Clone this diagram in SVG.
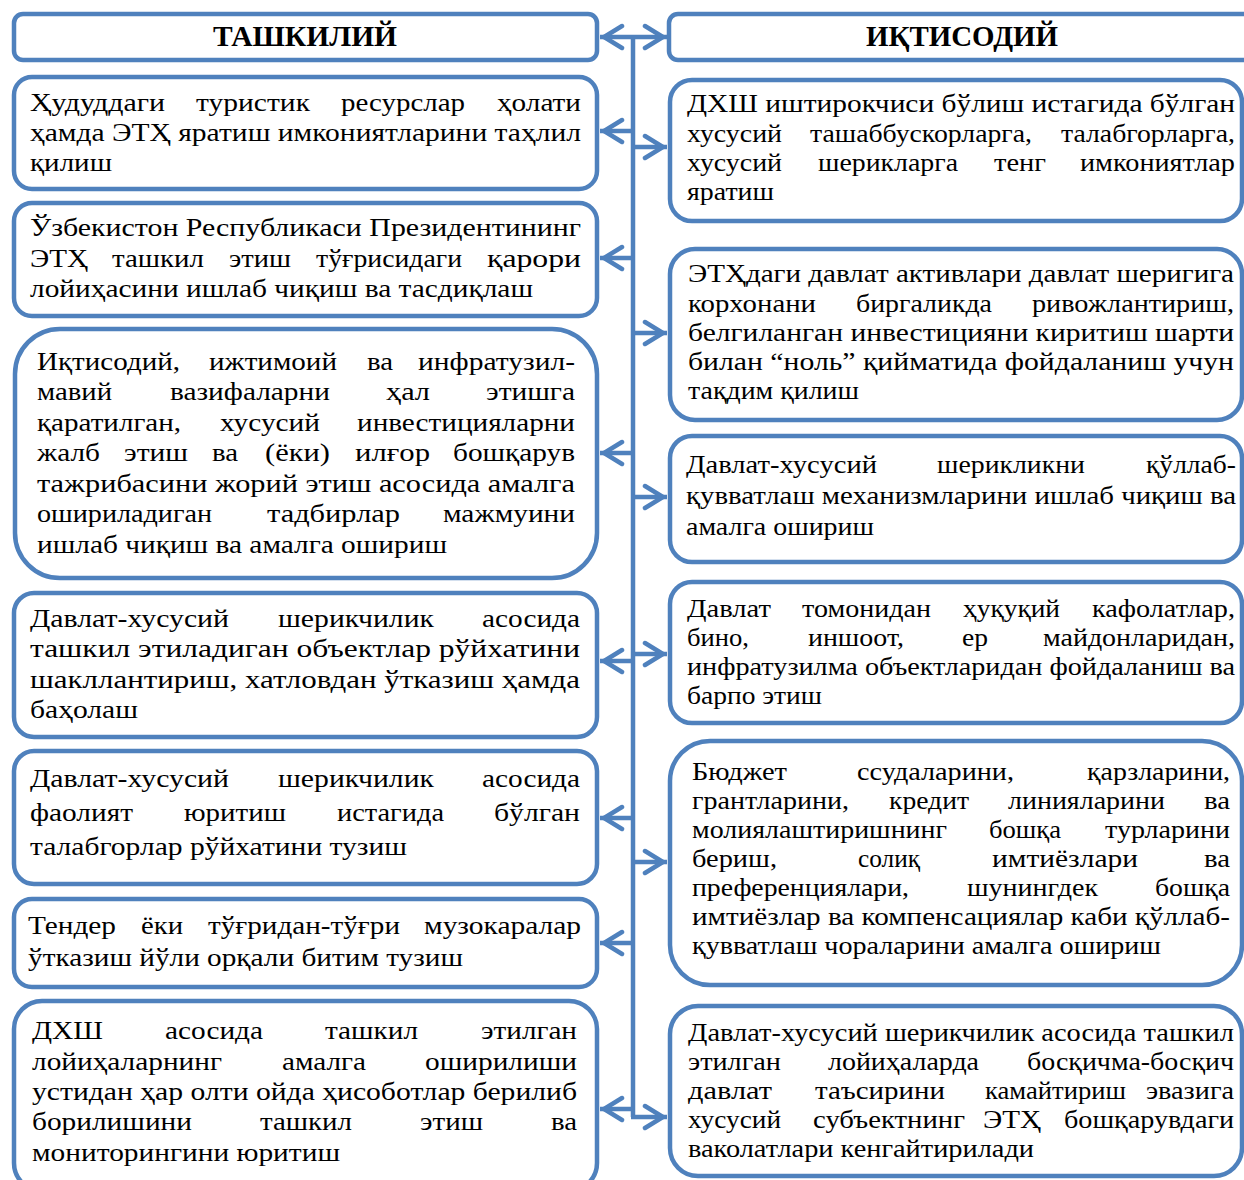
<svg xmlns="http://www.w3.org/2000/svg" width="1244" height="1180" viewBox="0 0 1244 1180">
<style>
.box{fill:#fff;stroke:#4F81BD;stroke-width:4.5}
.c{fill:none;stroke:#4F81BD;stroke-width:4.5}
.t{font-family:"Liberation Serif","Times New Roman",serif;font-size:25px;fill:#000}
.h{font-family:"Liberation Serif","Times New Roman",serif;font-size:29px;font-weight:bold;fill:#000}
</style>
<defs>
<marker id="ah" viewBox="-26 -14 30 28" refX="0" refY="0" markerWidth="30" markerHeight="28" markerUnits="userSpaceOnUse" orient="auto">
<path d="M-22,-11 L-4,0 L-22,11" fill="none" stroke="#4F81BD" stroke-width="4.5" stroke-linecap="round"/>
</marker>
</defs>
<rect width="1244" height="1180" fill="#fff"/>

<g id="connectors">
<path class="c" d="M633,37 V1117"/>
<path class="c" d="M633,37 H600" marker-end="url(#ah)"/>
<path class="c" d="M633,37 H667" marker-end="url(#ah)"/>
<path class="c" d="M633,131 H600" marker-end="url(#ah)"/>
<path class="c" d="M633,147 H667" marker-end="url(#ah)"/>
<path class="c" d="M633,258 H600" marker-end="url(#ah)"/>
<path class="c" d="M633,333 H667" marker-end="url(#ah)"/>
<path class="c" d="M633,453 H600" marker-end="url(#ah)"/>
<path class="c" d="M633,497 H667" marker-end="url(#ah)"/>
<path class="c" d="M633,661 H600" marker-end="url(#ah)"/>
<path class="c" d="M633,654 H667" marker-end="url(#ah)"/>
<path class="c" d="M633,818 H600" marker-end="url(#ah)"/>
<path class="c" d="M633,862 H667" marker-end="url(#ah)"/>
<path class="c" d="M633,943 H600" marker-end="url(#ah)"/>
<path class="c" d="M633,1109 H600" marker-end="url(#ah)"/>
<path class="c" d="M631,1117 H667" marker-end="url(#ah)"/>
</g>

<g id="hdr-left">
<rect class="box" x="14" y="14" width="583" height="46" rx="9"/>
<text class="h" x="213" y="46" textLength="184" lengthAdjust="spacingAndGlyphs">ТАШКИЛИЙ</text>
</g>
<g id="hdr-right">
<rect class="box" x="669" y="14" width="600" height="46" rx="9"/>
<text class="h" x="866" y="46" textLength="192" lengthAdjust="spacingAndGlyphs">ИҚТИСОДИЙ</text>
</g>

<g id="L1">
<rect class="box" x="14" y="77" width="583" height="112" rx="18"/>
<text class="t" y="111"><tspan x="30" textLength="135" lengthAdjust="spacingAndGlyphs">Ҳудуддаги</tspan><tspan x="196" textLength="114" lengthAdjust="spacingAndGlyphs">туристик</tspan><tspan x="341" textLength="124" lengthAdjust="spacingAndGlyphs">ресурслар</tspan><tspan x="497" textLength="84" lengthAdjust="spacingAndGlyphs">ҳолати</tspan></text>
<text class="t" x="30" y="141" textLength="551" lengthAdjust="spacingAndGlyphs">ҳамда ЭТҲ яратиш имкониятларини таҳлил</text>
<text class="t" x="30" y="171" textLength="82" lengthAdjust="spacingAndGlyphs">қилиш</text>
</g>

<g id="L2">
<rect class="box" x="14" y="203" width="583" height="113" rx="18"/>
<text class="t" x="30" y="236" textLength="551" lengthAdjust="spacingAndGlyphs">Ўзбекистон Республикаси Президентининг</text>
<text class="t" y="267"><tspan x="30" textLength="58" lengthAdjust="spacingAndGlyphs">ЭТҲ</tspan><tspan x="112" textLength="92" lengthAdjust="spacingAndGlyphs">ташкил</tspan><tspan x="229" textLength="62" lengthAdjust="spacingAndGlyphs">этиш</tspan><tspan x="316" textLength="146" lengthAdjust="spacingAndGlyphs">тўғрисидаги</tspan><tspan x="487" textLength="94" lengthAdjust="spacingAndGlyphs">қарори</tspan></text>
<text class="t" x="30" y="297" textLength="503" lengthAdjust="spacingAndGlyphs">лойиҳасини ишлаб чиқиш ва тасдиқлаш</text>
</g>

<g id="L3">
<rect class="box" x="15" y="329" width="582" height="249" rx="45"/>
<text class="t" y="370"><tspan x="37" textLength="143" lengthAdjust="spacingAndGlyphs">Иқтисодий,</tspan><tspan x="209" textLength="128" lengthAdjust="spacingAndGlyphs">ижтимоий</tspan><tspan x="367" textLength="26" lengthAdjust="spacingAndGlyphs">ва</tspan><tspan x="418" textLength="157" lengthAdjust="spacingAndGlyphs">инфратузил-</tspan></text>
<text class="t" y="400"><tspan x="37" textLength="75" lengthAdjust="spacingAndGlyphs">мавий</tspan><tspan x="170" textLength="160" lengthAdjust="spacingAndGlyphs">вазифаларни</tspan><tspan x="386" textLength="44" lengthAdjust="spacingAndGlyphs">ҳал</tspan><tspan x="486" textLength="89" lengthAdjust="spacingAndGlyphs">этишга</tspan></text>
<text class="t" y="431"><tspan x="37" textLength="144" lengthAdjust="spacingAndGlyphs">қаратилган,</tspan><tspan x="220" textLength="100" lengthAdjust="spacingAndGlyphs">хусусий</tspan><tspan x="357" textLength="218" lengthAdjust="spacingAndGlyphs">инвестицияларни</tspan></text>
<text class="t" y="461"><tspan x="37" textLength="63" lengthAdjust="spacingAndGlyphs">жалб</tspan><tspan x="124" textLength="64" lengthAdjust="spacingAndGlyphs">этиш</tspan><tspan x="212" textLength="26" lengthAdjust="spacingAndGlyphs">ва</tspan><tspan x="265" textLength="65" lengthAdjust="spacingAndGlyphs">(ёки)</tspan><tspan x="355" textLength="75" lengthAdjust="spacingAndGlyphs">илғор</tspan><tspan x="453" textLength="122" lengthAdjust="spacingAndGlyphs">бошқарув</tspan></text>
<text class="t" x="37" y="492" textLength="538" lengthAdjust="spacingAndGlyphs">тажрибасини жорий этиш асосида амалга</text>
<text class="t" y="522"><tspan x="37" textLength="175" lengthAdjust="spacingAndGlyphs">ошириладиган</tspan><tspan x="267" textLength="133" lengthAdjust="spacingAndGlyphs">тадбирлар</tspan><tspan x="443" textLength="132" lengthAdjust="spacingAndGlyphs">мажмуини</tspan></text>
<text class="t" x="37" y="553" textLength="410" lengthAdjust="spacingAndGlyphs">ишлаб чиқиш ва амалга ошириш</text>
</g>

<g id="L4">
<rect class="box" x="14" y="593" width="583" height="144" rx="20"/>
<text class="t" y="627"><tspan x="30" textLength="199" lengthAdjust="spacingAndGlyphs">Давлат-хусусий</tspan><tspan x="278" textLength="156" lengthAdjust="spacingAndGlyphs">шерикчилик</tspan><tspan x="482" textLength="98" lengthAdjust="spacingAndGlyphs">асосида</tspan></text>
<text class="t" x="30" y="657" textLength="550" lengthAdjust="spacingAndGlyphs">ташкил этиладиган объектлар рўйхатини</text>
<text class="t" x="30" y="688" textLength="550" lengthAdjust="spacingAndGlyphs">шакллантириш, хатловдан ўтказиш ҳамда</text>
<text class="t" x="30" y="718" textLength="108" lengthAdjust="spacingAndGlyphs">баҳолаш</text>
</g>

<g id="L5">
<rect class="box" x="14" y="751" width="583" height="133" rx="20"/>
<text class="t" y="787"><tspan x="30" textLength="199" lengthAdjust="spacingAndGlyphs">Давлат-хусусий</tspan><tspan x="278" textLength="156" lengthAdjust="spacingAndGlyphs">шерикчилик</tspan><tspan x="482" textLength="98" lengthAdjust="spacingAndGlyphs">асосида</tspan></text>
<text class="t" y="821"><tspan x="30" textLength="103" lengthAdjust="spacingAndGlyphs">фаолият</tspan><tspan x="184" textLength="102" lengthAdjust="spacingAndGlyphs">юритиш</tspan><tspan x="337" textLength="107" lengthAdjust="spacingAndGlyphs">истагида</tspan><tspan x="494" textLength="86" lengthAdjust="spacingAndGlyphs">бўлган</tspan></text>
<text class="t" x="30" y="855" textLength="377" lengthAdjust="spacingAndGlyphs">талабгорлар рўйхатини тузиш</text>
</g>

<g id="L6">
<rect class="box" x="14" y="899" width="583" height="88" rx="18"/>
<text class="t" y="934"><tspan x="28" textLength="88" lengthAdjust="spacingAndGlyphs">Тендер</tspan><tspan x="141" textLength="42" lengthAdjust="spacingAndGlyphs">ёки</tspan><tspan x="208" textLength="192" lengthAdjust="spacingAndGlyphs">тўғридан-тўғри</tspan><tspan x="424" textLength="157" lengthAdjust="spacingAndGlyphs">музокаралар</tspan></text>
<text class="t" x="28" y="966" textLength="435" lengthAdjust="spacingAndGlyphs">ўтказиш йўли орқали битим тузиш</text>
</g>

<g id="L7">
<rect class="box" x="14" y="1001" width="583" height="190" rx="28"/>
<text class="t" y="1039"><tspan x="32" textLength="71" lengthAdjust="spacingAndGlyphs">ДХШ</tspan><tspan x="165" textLength="98" lengthAdjust="spacingAndGlyphs">асосида</tspan><tspan x="325" textLength="93" lengthAdjust="spacingAndGlyphs">ташкил</tspan><tspan x="481" textLength="96" lengthAdjust="spacingAndGlyphs">этилган</tspan></text>
<text class="t" y="1070"><tspan x="32" textLength="190" lengthAdjust="spacingAndGlyphs">лойиҳаларнинг</tspan><tspan x="282" textLength="84" lengthAdjust="spacingAndGlyphs">амалга</tspan><tspan x="425" textLength="152" lengthAdjust="spacingAndGlyphs">оширилиши</tspan></text>
<text class="t" x="32" y="1100" textLength="545" lengthAdjust="spacingAndGlyphs">устидан ҳар олти ойда ҳисоботлар берилиб</text>
<text class="t" y="1130"><tspan x="32" textLength="160" lengthAdjust="spacingAndGlyphs">борилишини</tspan><tspan x="260" textLength="92" lengthAdjust="spacingAndGlyphs">ташкил</tspan><tspan x="420" textLength="63" lengthAdjust="spacingAndGlyphs">этиш</tspan><tspan x="551" textLength="26" lengthAdjust="spacingAndGlyphs">ва</tspan></text>
<text class="t" x="32" y="1161" textLength="308" lengthAdjust="spacingAndGlyphs">мониторингини юритиш</text>
</g>

<g id="R1">
<rect class="box" x="670" y="80" width="572" height="141" rx="22"/>
<text class="t" x="687" y="112" textLength="548" lengthAdjust="spacingAndGlyphs">ДХШ иштирокчиси бўлиш истагида бўлган</text>
<text class="t" y="142"><tspan x="687" textLength="95" lengthAdjust="spacingAndGlyphs">хусусий</tspan><tspan x="810" textLength="222" lengthAdjust="spacingAndGlyphs">ташаббускорларга,</tspan><tspan x="1061" textLength="174" lengthAdjust="spacingAndGlyphs">талабгорларга,</tspan></text>
<text class="t" y="171"><tspan x="687" textLength="95" lengthAdjust="spacingAndGlyphs">хусусий</tspan><tspan x="818" textLength="140" lengthAdjust="spacingAndGlyphs">шерикларга</tspan><tspan x="994" textLength="52" lengthAdjust="spacingAndGlyphs">тенг</tspan><tspan x="1080" textLength="155" lengthAdjust="spacingAndGlyphs">имкониятлар</tspan></text>
<text class="t" x="687" y="200" textLength="87" lengthAdjust="spacingAndGlyphs">яратиш</text>
</g>

<g id="R2">
<rect class="box" x="670" y="249" width="572" height="171" rx="25"/>
<text class="t" x="688" y="282" textLength="546" lengthAdjust="spacingAndGlyphs">ЭТҲдаги давлат активлари давлат шеригига</text>
<text class="t" y="312"><tspan x="688" textLength="128" lengthAdjust="spacingAndGlyphs">корхонани</tspan><tspan x="856" textLength="136" lengthAdjust="spacingAndGlyphs">биргаликда</tspan><tspan x="1032" textLength="202" lengthAdjust="spacingAndGlyphs">ривожлантириш,</tspan></text>
<text class="t" x="688" y="341" textLength="546" lengthAdjust="spacingAndGlyphs">белгиланган инвестицияни киритиш шарти</text>
<text class="t" x="688" y="370" textLength="546" lengthAdjust="spacingAndGlyphs">билан “ноль” қийматида фойдаланиш учун</text>
<text class="t" x="688" y="399" textLength="171" lengthAdjust="spacingAndGlyphs">тақдим қилиш</text>
</g>

<g id="R3">
<rect class="box" x="670" y="436" width="572" height="126" rx="22"/>
<text class="t" y="473"><tspan x="686" textLength="191" lengthAdjust="spacingAndGlyphs">Давлат-хусусий</tspan><tspan x="937" textLength="148" lengthAdjust="spacingAndGlyphs">шерикликни</tspan><tspan x="1146" textLength="90" lengthAdjust="spacingAndGlyphs">қўллаб-</tspan></text>
<text class="t" x="686" y="504" textLength="550" lengthAdjust="spacingAndGlyphs">қувватлаш механизмларини ишлаб чиқиш ва</text>
<text class="t" x="686" y="535" textLength="188" lengthAdjust="spacingAndGlyphs">амалга ошириш</text>
</g>

<g id="R4">
<rect class="box" x="670" y="582" width="572" height="141" rx="22"/>
<text class="t" y="617"><tspan x="687" textLength="84" lengthAdjust="spacingAndGlyphs">Давлат</tspan><tspan x="802" textLength="129" lengthAdjust="spacingAndGlyphs">томонидан</tspan><tspan x="963" textLength="97" lengthAdjust="spacingAndGlyphs">ҳуқуқий</tspan><tspan x="1092" textLength="143" lengthAdjust="spacingAndGlyphs">кафолатлар,</tspan></text>
<text class="t" y="646"><tspan x="687" textLength="62" lengthAdjust="spacingAndGlyphs">бино,</tspan><tspan x="808" textLength="96" lengthAdjust="spacingAndGlyphs">иншоот,</tspan><tspan x="962" textLength="26" lengthAdjust="spacingAndGlyphs">ер</tspan><tspan x="1043" textLength="192" lengthAdjust="spacingAndGlyphs">майдонларидан,</tspan></text>
<text class="t" x="687" y="675" textLength="548" lengthAdjust="spacingAndGlyphs">инфратузилма объектларидан фойдаланиш ва</text>
<text class="t" x="687" y="704" textLength="135" lengthAdjust="spacingAndGlyphs">барпо этиш</text>
</g>

<g id="R5">
<rect class="box" x="670" y="741" width="572" height="244" rx="40"/>
<text class="t" y="780"><tspan x="692" textLength="95" lengthAdjust="spacingAndGlyphs">Бюджет</tspan><tspan x="857" textLength="157" lengthAdjust="spacingAndGlyphs">ссудаларини,</tspan><tspan x="1087" textLength="143" lengthAdjust="spacingAndGlyphs">қарзларини,</tspan></text>
<text class="t" y="809"><tspan x="692" textLength="157" lengthAdjust="spacingAndGlyphs">грантларини,</tspan><tspan x="889" textLength="80" lengthAdjust="spacingAndGlyphs">кредит</tspan><tspan x="1008" textLength="157" lengthAdjust="spacingAndGlyphs">линияларини</tspan><tspan x="1204" textLength="26" lengthAdjust="spacingAndGlyphs">ва</tspan></text>
<text class="t" y="838"><tspan x="692" textLength="255" lengthAdjust="spacingAndGlyphs">молиялаштиришнинг</tspan><tspan x="989" textLength="72" lengthAdjust="spacingAndGlyphs">бошқа</tspan><tspan x="1105" textLength="125" lengthAdjust="spacingAndGlyphs">турларини</tspan></text>
<text class="t" y="867"><tspan x="692" textLength="85" lengthAdjust="spacingAndGlyphs">бериш,</tspan><tspan x="858" textLength="62" lengthAdjust="spacingAndGlyphs">солиқ</tspan><tspan x="992" textLength="146" lengthAdjust="spacingAndGlyphs">имтиёзлари</tspan><tspan x="1204" textLength="26" lengthAdjust="spacingAndGlyphs">ва</tspan></text>
<text class="t" y="896"><tspan x="692" textLength="217" lengthAdjust="spacingAndGlyphs">преференциялари,</tspan><tspan x="967" textLength="131" lengthAdjust="spacingAndGlyphs">шунингдек</tspan><tspan x="1155" textLength="75" lengthAdjust="spacingAndGlyphs">бошқа</tspan></text>
<text class="t" x="692" y="925" textLength="538" lengthAdjust="spacingAndGlyphs">имтиёзлар ва компенсациялар каби қўллаб-</text>
<text class="t" x="692" y="954" textLength="469" lengthAdjust="spacingAndGlyphs">қувватлаш чораларини амалга ошириш</text>
</g>

<g id="R6">
<rect class="box" x="670" y="1006" width="572" height="170" rx="28"/>
<text class="t" x="688" y="1041" textLength="546" lengthAdjust="spacingAndGlyphs">Давлат-хусусий шерикчилик асосида ташкил</text>
<text class="t" y="1070"><tspan x="688" textLength="93" lengthAdjust="spacingAndGlyphs">этилган</tspan><tspan x="828" textLength="151" lengthAdjust="spacingAndGlyphs">лойиҳаларда</tspan><tspan x="1027" textLength="207" lengthAdjust="spacingAndGlyphs">босқичма-босқич</tspan></text>
<text class="t" y="1099"><tspan x="688" textLength="84" lengthAdjust="spacingAndGlyphs">давлат</tspan><tspan x="815" textLength="130" lengthAdjust="spacingAndGlyphs">таъсирини</tspan><tspan x="985" textLength="141" lengthAdjust="spacingAndGlyphs">камайтириш</tspan><tspan x="1146" textLength="88" lengthAdjust="spacingAndGlyphs">эвазига</tspan></text>
<text class="t" y="1128"><tspan x="688" textLength="93" lengthAdjust="spacingAndGlyphs">хусусий</tspan><tspan x="813" textLength="152" lengthAdjust="spacingAndGlyphs">субъектнинг</tspan><tspan x="983" textLength="58" lengthAdjust="spacingAndGlyphs">ЭТҲ</tspan><tspan x="1064" textLength="170" lengthAdjust="spacingAndGlyphs">бошқарувдаги</tspan></text>
<text class="t" x="688" y="1157" textLength="346" lengthAdjust="spacingAndGlyphs">ваколатлари кенгайтирилади</text>
</g>
</svg>
